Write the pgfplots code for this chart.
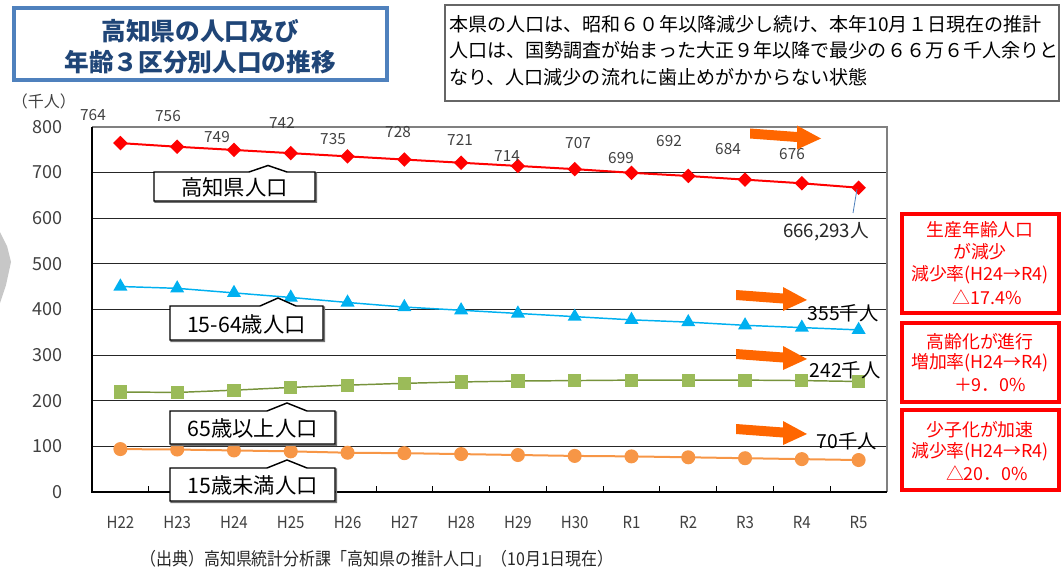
\documentclass[border=0pt]{standalone}
\usepackage{fontspec}
\setmainfont{Noto Sans CJK JP}
\newfontfamily\narrowfont[FakeStretch=0.9]{Noto Sans CJK JP}
\usepackage{pgfplots}
\pgfplotsset{compat=1.18}

\definecolor{cred}{HTML}{FF0000}
\definecolor{csky}{HTML}{00B0F0}
\definecolor{cgreenline}{HTML}{77933C}
\definecolor{cgreen}{HTML}{9BBB59}
\definecolor{corange}{HTML}{F79646}
\definecolor{arrorange}{HTML}{FF6600}
\definecolor{textgray}{HTML}{404040}
\definecolor{titleblue}{HTML}{1F4577}
\definecolor{titleborder}{HTML}{4F81BD}
\definecolor{leader}{HTML}{4F81BD}

\newcommand{\fs}[1]{\fontsize{#1}{#1}\selectfont}
% orange arrow, tail centre at (#1,#2) in pixels
\newcommand{\oarrow}[2]{\fill[arrorange, shift={(#1,#2)}]
  (0,-5) -- (47,-1.5) -- (47,-8) -- (71,5) -- (47,16) -- (47,8.5) -- (0,5) -- cycle;}
% callout box: x1 y1 x2 y2 notchleft peakx peaky notchright text
\newcommand{\callout}[9]{%
  \draw[black!55, line width=1.2pt, line join=miter, shift={(1.2,1.2)}]
    (#1,#2) -- (#5,#2) -- (#6,#7) -- (#8,#2) -- (#3,#2) -- (#3,#4) -- (#1,#4) -- cycle;
  \draw[black, line width=1.1pt, fill=white, line join=miter]
    (#1,#2) -- (#5,#2) -- (#6,#7) -- (#8,#2) -- (#3,#2) -- (#3,#4) -- (#1,#4) -- cycle;
  \node[font=\fs{16}] at ({(#1+#3)/2},{(#2+#4)/2+1}) {#9};}

\begin{document}
\begin{tikzpicture}[x=0.75pt, y=-0.75pt]
\useasboundingbox (0,0) rectangle (1062,570);

% grey chevron at the left edge
\fill[black!22] (0,232) -- (7,246) -- (11,262) -- (6,285) -- (0,303) -- cycle;

\begin{scope}[x=1pt, y=1pt]
\begin{axis}[
    at={(69pt,-369pt)}, anchor=south west,
    scale only axis, width=596.25pt, height=274pt,
    xmin=-0.5, xmax=13.5, ymin=0, ymax=800,
    xtick={0,...,13},
    xticklabels={H22,H23,H24,H25,H26,H27,H28,H29,H30,R1,R2,R3,R4,R5},
    minor xtick={0.5,1.5,...,12.5},
    ytick={0,100,...,800},
    xtick pos=bottom, ytick pos=left,
    major tick length=0pt, minor tick length=4.5pt,
    tick style={black, line width=0.6pt},
    ymajorgrids, grid style={black!85, line width=0.6pt},
    axis line style={draw=none},
    xticklabel style={font=\narrowfont\fs{12.5}, text=textgray, anchor=center, yshift=-22.5pt},
    yticklabel style={font=\fs{13.5}, text=textgray, anchor=east, inner sep=0pt, xshift=-21.75pt},
    /pgf/number format/assume math mode=true,
    clip=false,
]
% total
\addplot[color=cred, line width=1.5pt, mark=square*, mark size=3.1pt,
    mark options={solid, rotate=45, fill=cred}]
    coordinates {
    (0,764) (1,756) (2,749) (3,742) (4,735) (5,728) (6,721)
    (7,714) (8,707) (9,699) (10,692) (11,684) (12,676) (13,666.293)
    };
% 15-64
\addplot[color=csky, line width=1.1pt, mark=triangle*, mark size=5pt,
    mark options={solid, fill=csky}]
    coordinates {
    (0,450) (1,446) (2,436) (3,426) (4,415) (5,405) (6,398)
    (7,391) (8,384) (9,377) (10,372) (11,365) (12,360) (13,355)
    };
% 65+
\addplot[color=cgreenline, line width=1.1pt, mark=square*, mark size=4.4pt,
    mark options={solid, draw=cgreen, fill=cgreen}]
    coordinates {
    (0,219) (1,218) (2,223) (3,229) (4,234) (5,238) (6,241)
    (7,243) (8,244) (9,245) (10,245) (11,245) (12,244) (13,242)
    };
% under 15
\addplot[color=corange, line width=1.5pt, mark=*, mark size=4.5pt,
    mark options={solid, draw=corange, fill=corange}]
    coordinates {
    (0,94) (1,93) (2,91) (3,89) (4,86) (5,85) (6,83)
    (7,81) (8,79) (9,78) (10,76) (11,74) (12,72) (13,70)
    };
\end{axis}
\end{scope}

% plot frame
\draw[black!50, line width=0.9pt] (92,127) -- (887,127) -- (887,492);
\draw[black, line width=0.9pt] (92,127) -- (92,492) -- (887,492);

% unit
\node[font=\fs{12}, text=textgray] at (44,101) {（千人）};

% data labels of the total
\begin{scope}[every node/.style={font=\fs{11.5}, text=textgray}]
\node at (93,115) {764};
\node at (168,116) {756};
\node at (217,137) {749};
\node at (282,123) {742};
\node at (333,139) {735};
\node at (398,132) {728};
\node at (460,140) {721};
\node at (507,156) {714};
\node at (578,143) {707};
\node at (621,158) {699};
\node at (669,141) {692};
\node at (728,149) {684};
\node at (792,154) {676};
\end{scope}
\draw[leader, line width=0.6pt] (853,213) -- (857,189);
\node[font=\fs{14}, text=black!85] at (826,232) {666,293人};

% orange arrows and end values
\oarrow{750}{133.5}
\oarrow{736}{295}
\oarrow{736}{354}
\oarrow{736}{429}
\node[font=\fs{14.5}] at (843,313) {355千人};
\node[font=\fs{14.5}] at (845,370) {242千人};
\node[font=\fs{14.5}] at (847,441) {70千人};

% callouts
\callout{154}{172}{315}{201}{249}{268}{165.5}{287}{高知県人口}
\callout{170}{306}{323}{340}{260}{278}{298}{296}{15-64歳人口}
\callout{170}{411}{335}{444}{267}{287}{403}{307}{65歳以上人口}
\callout{170}{468}{335}{501}{267}{287}{460}{307}{15歳未満人口}

% title
\draw[titleborder, line width=2.4pt] (14,8) rectangle (387,80);
\node[font=\bfseries\fs{18.5}, text=titleblue] at (200,31) {高知県の人口及び};
\node[font=\bfseries\fs{18.5}, text=titleblue] at (200,62) {年齢３区分別人口の推移};

% note box
\draw[black!60, line width=0.8pt] (445,5) rectangle (1059,101);
\begin{scope}[every node/.style={font=\fs{14.3}, anchor=west, inner sep=0pt}]
\node at (449,24) {本県の人口は、昭和６０年以降減少し続け、本年10月１日現在の推計};
\node at (449,50) {人口は、国勢調査が始まった大正９年以降で最少の６６万６千人余りと};
\node at (449,77) {なり、人口減少の流れに歯止めがかからない状態};
\end{scope}

% red boxes
\draw[cred, line width=2.6pt] (902,214) rectangle (1059,313);
\draw[cred, line width=2.6pt] (902,323) rectangle (1059,402);
\draw[cred, line width=2.6pt] (902,410) rectangle (1059,490);
\begin{scope}[every node/.style={font=\fs{13.4}, text=cred}]
\node at (980,230) {生産年齢人口};
\node at (980,252) {が減少};
\node at (980,275) {減少率(H24→R4)};
\node at (987,297) {△17.4\%};
\node at (980,342) {高齢化が進行};
\node at (980,363) {増加率(H24→R4)};
\node at (990,385) {＋9．0\%};
\node at (980,430) {少子化が加速};
\node at (980,452) {減少率(H24→R4)};
\node at (987,473) {△20．0\%};
\end{scope}

% source
\node[font=\narrowfont\fs{13.3}, text=black!85] at (377,559) {（出典）高知県統計分析課「高知県の推計人口」（10月1日現在）};
\end{tikzpicture}
\end{document}
